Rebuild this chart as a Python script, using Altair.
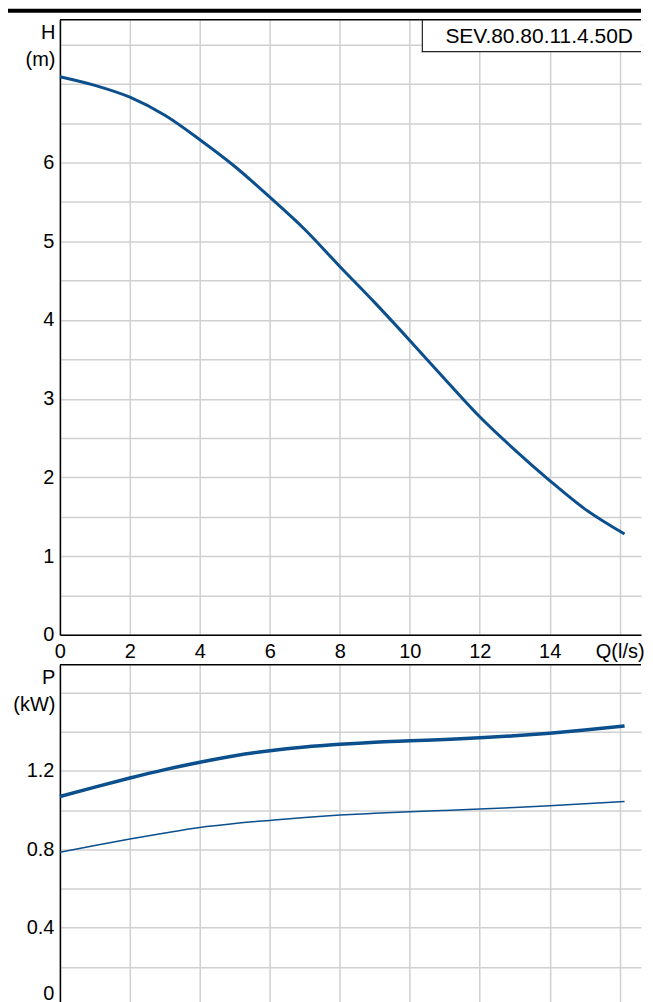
import altair as alt
import pandas as pd

# ---- data ----
Q = [0, 1, 2, 3, 4, 5, 6, 7, 8, 9, 10, 11, 12, 13, 14, 15, 16.14]
H = [7.09, 6.98, 6.83, 6.60, 6.29, 5.95, 5.56, 5.15, 4.68, 4.22, 3.74, 3.25, 2.77, 2.35, 1.96, 1.60, 1.28]
P1 = [1.070, 1.118, 1.164, 1.207, 1.245, 1.278, 1.303, 1.322, 1.336, 1.347, 1.354, 1.361, 1.369, 1.380, 1.393, 1.409, 1.430]
P2 = [0.785, 0.820, 0.853, 0.884, 0.912, 0.932, 0.948, 0.963, 0.975, 0.984, 0.992, 0.999, 1.006, 1.014, 1.023, 1.033, 1.045]

X_TICKS = [0, 2, 4, 6, 8, 10, 12, 14, 16]
H_GRID = [0, 0.5, 1, 1.5, 2, 2.5, 3, 3.5, 4, 4.5, 5, 5.5, 6, 6.5, 7, 7.5]
P_GRID = [0, 0.2, 0.4, 0.6, 0.8, 1.0, 1.2, 1.4, 1.6]
MODEL = "SEV.80.80.11.4.50D"

BLUE = "#0b4f8c"
FONT = "Liberation Sans"
FS = 20
W = 582
X_DOMAIN = [0, 16.61]
H_DOMAIN = [0, 7.814]
P_DOMAIN = [0, 1.742]

df_h = pd.DataFrame({"Q": Q, "H": H})
df_p1 = pd.DataFrame({"Q": Q, "P": P1})
df_p2 = pd.DataFrame({"Q": Q, "P": P2})
one = pd.DataFrame({"label": [MODEL]})

xscale = alt.Scale(domain=X_DOMAIN, nice=False, zero=False)

common_axis = dict(ticks=False, tickSize=0, labelFontSize=FS, labelColor="black",
                   domainColor="black", domainWidth=1.5, gridColor="#d0d0d0",
                   gridWidth=1.5, labelOverlap=False, labelFont=FONT)

x_top = alt.X("Q:Q", scale=xscale, axis=alt.Axis(
    values=X_TICKS, title=None, labelPadding=7, labelFlush=False,
    labelExpr="datum.value == 16 ? 'Q(l/s)' : '' + datum.value", **common_axis))

y_h = alt.Y("H:Q", scale=alt.Scale(domain=H_DOMAIN, nice=False), axis=alt.Axis(
    values=H_GRID, labelPadding=6,
    labelExpr="(datum.value % 1 == 0 && datum.value < 7) ? '' + datum.value : ''",
    title=["H", "(m)"], titleAngle=0, titleAlign="right", titleBaseline="middle",
    titleX=-5, titleY=12.5, titleFontSize=FS, titleFontWeight="normal",
    titleColor="black", titleLineHeight=27, titleFont=FONT, **common_axis))

h_line = alt.Chart(df_h).mark_line(color=BLUE, strokeWidth=3, interpolate="monotone").encode(
    x=x_top, y=y_h)

# thick black band above the chart (filled rect: exact bounds)
top_band = alt.Chart(one).mark_rect(fill="black", strokeWidth=0).encode(
    x=alt.value(-52), x2=alt.value(W), y=alt.value(-11), y2=alt.value(-7))

# top border of the plot area
top_border = alt.Chart(one).mark_rect(fill="black", strokeWidth=0).encode(
    x=alt.value(0), x2=alt.value(W), y=alt.value(-0.75), y2=alt.value(0.75))

# model box (open at the right, running off the edge like the reference)
box_fill = alt.Chart(one).mark_rect(fill="white", strokeWidth=0).encode(
    x=alt.value(363), x2=alt.value(W), y=alt.value(0), y2=alt.value(32))
box_left = alt.Chart(one).mark_rect(fill="#222222", strokeWidth=0).encode(
    x=alt.value(362.4), x2=alt.value(363.6), y=alt.value(0), y2=alt.value(32.6))
box_bottom = alt.Chart(one).mark_rect(fill="#222222", strokeWidth=0).encode(
    x=alt.value(362.4), x2=alt.value(W), y=alt.value(31.4), y2=alt.value(32.6))

box_text = alt.Chart(one).mark_text(fontSize=21, font=FONT, color="black",
                                    align="center", baseline="middle").encode(
    x=alt.value(480), y=alt.value(17), text="label:N")

top = alt.layer(h_line, top_band, box_fill, top_border, box_left, box_bottom,
                box_text).properties(width=W, height=616)

x_bot = alt.X("Q:Q", scale=xscale, axis=alt.Axis(
    values=X_TICKS, title=None, labels=False, **common_axis))

y_p = alt.Y("P:Q", scale=alt.Scale(domain=P_DOMAIN, nice=False), axis=alt.Axis(
    values=P_GRID, labelPadding=6, labelFlush=True, labelFlushOffset=-3,
    labelExpr="(round(datum.value * 10) % 4 == 0 && datum.value < 1.5) ? '' + round(datum.value * 10) / 10 : ''",
    title=["P", "(kW)"], titleAngle=0, titleAlign="right", titleBaseline="middle",
    titleX=-5, titleY=12.5, titleFontSize=FS, titleFontWeight="normal",
    titleColor="black", titleLineHeight=27, titleFont=FONT, **common_axis))

p1_line = alt.Chart(df_p1).mark_line(color=BLUE, strokeWidth=3.5, interpolate="monotone").encode(
    x=x_bot, y=y_p)
p2_line = alt.Chart(df_p2).mark_line(color=BLUE, strokeWidth=1.5, interpolate="monotone").encode(
    x=x_bot, y=y_p)
bot_border = alt.Chart(one).mark_rect(fill="black", strokeWidth=0).encode(
    x=alt.value(0), x2=alt.value(W), y=alt.value(-0.75), y2=alt.value(0.75))

bottom = alt.layer(p1_line, p2_line, bot_border).properties(width=W, height=342)

chart = alt.vconcat(top, bottom, spacing=30, bounds="flush").properties(
    padding={"left": 0, "top": 0, "right": 0, "bottom": 0}
).configure(font=FONT).configure_view(strokeWidth=0)

chart.save("out.html", embed_options={"renderer": "svg", "actions": False})
